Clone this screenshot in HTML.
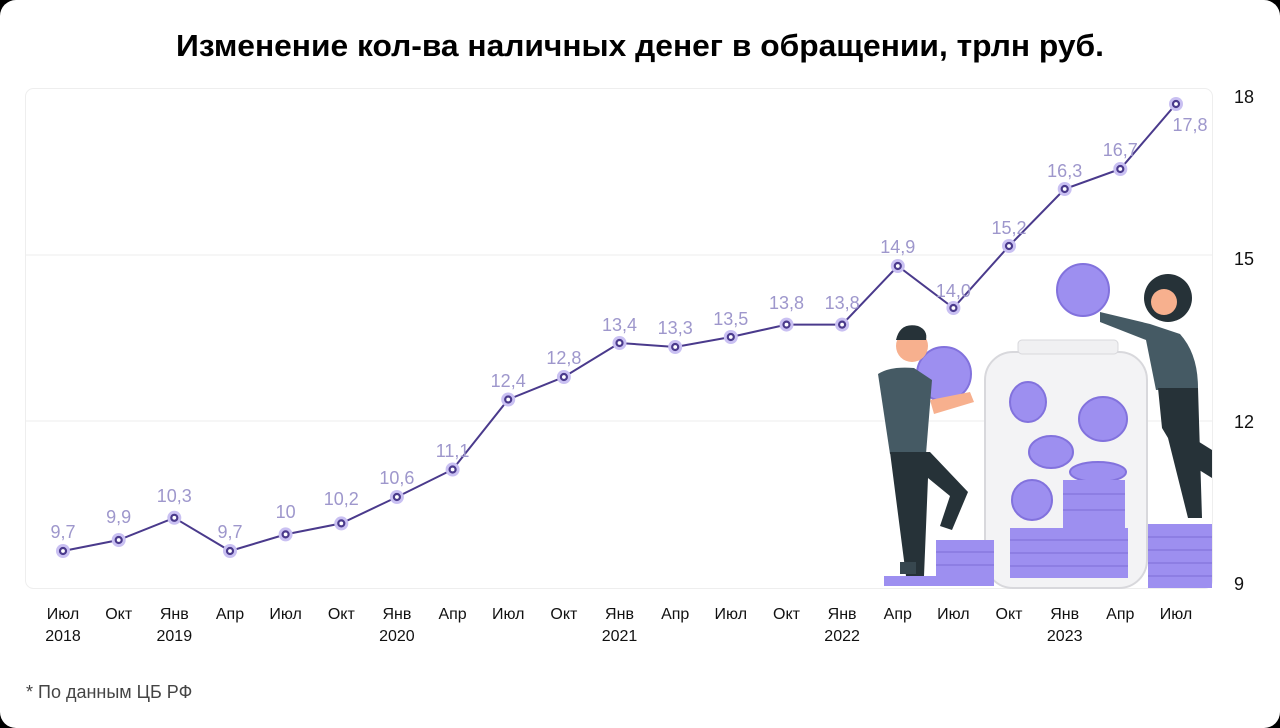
<!DOCTYPE html>
<html><head><meta charset="utf-8"><style>
html,body{margin:0;padding:0;background:#000;}
svg{display:block}
text{font-family:"Liberation Sans",sans-serif}
</style></head><body>
<svg width="1280" height="728" viewBox="0 0 1280 728" xmlns="http://www.w3.org/2000/svg">
<rect x="0" y="0" width="1280" height="728" rx="16" fill="#fff"/>
<text x="640" y="56" text-anchor="middle" font-size="31" font-weight="bold" fill="#000" textLength="928" lengthAdjust="spacingAndGlyphs">Изменение кол-ва наличных денег в обращении, трлн руб.</text>
<rect x="25.5" y="88.5" width="1187" height="500" rx="8" fill="#fff" stroke="#eeeeee"/>
<line x1="26" y1="255" x2="1212" y2="255" stroke="#eeeeee"/>
<line x1="26" y1="421" x2="1212" y2="421" stroke="#eeeeee"/>
<g font-size="18" fill="#111" text-anchor="start">
<text x="1234" y="103">18</text><text x="1234" y="265">15</text><text x="1234" y="428">12</text><text x="1234" y="590">9</text>
</g>
<g>
<rect x="985" y="352" width="162" height="236" rx="28" fill="#f3f3f5" stroke="#d8d8dc" stroke-width="2"/>
<rect x="1018" y="340" width="100" height="14" rx="4" fill="#f0f0f2" stroke="#d8d8dc"/>
<g fill="#9d8ff0" stroke="#8272dd" stroke-width="2">
<ellipse cx="1028" cy="402" rx="18" ry="20"/><ellipse cx="1103" cy="419" rx="24" ry="22"/>
<ellipse cx="1051" cy="452" rx="22" ry="16"/><ellipse cx="1032" cy="500" rx="20" ry="20"/>
<ellipse cx="1098" cy="472" rx="28" ry="10"/>
<ellipse cx="1083" cy="290" rx="26" ry="26"/><ellipse cx="944" cy="374" rx="27" ry="27"/>
</g>
<g fill="#9d8ff0">
<rect x="1063" y="480" width="62" height="48"/>
<rect x="1010" y="528" width="118" height="50"/>
<rect x="1148" y="524" width="64" height="64"/>
<rect x="936" y="540" width="58" height="38"/>
<rect x="884" y="576" width="110" height="10"/>
</g>
<g stroke="#7d6ed6" stroke-width="1">
<line x1="1010" y1="540" x2="1128" y2="540"/><line x1="1010" y1="553" x2="1128" y2="553"/><line x1="1010" y1="566" x2="1128" y2="566"/>
<line x1="1063" y1="494" x2="1125" y2="494"/><line x1="1063" y1="510" x2="1125" y2="510"/>
<line x1="1148" y1="537" x2="1212" y2="537"/><line x1="1148" y1="550" x2="1212" y2="550"/><line x1="1148" y1="563" x2="1212" y2="563"/><line x1="1148" y1="576" x2="1212" y2="576"/>
<line x1="936" y1="552" x2="994" y2="552"/><line x1="936" y1="565" x2="994" y2="565"/>
</g>
<circle cx="912" cy="346" r="16" fill="#f7b08e"/>
<path d="M896 340 q4 -18 22 -14 q10 4 8 14 z" fill="#263238"/>
<path d="M878 374 q12 -8 36 -6 l18 12 l-6 74 l-36 0 z" fill="#455a64"/>
<path d="M890 452 l40 0 l38 40 l-16 38 l-12 -4 l10 -30 l-22 -18 l-4 98 l-18 0 z" fill="#263238"/>
<rect x="900" y="562" width="16" height="12" fill="#37474f"/>
<path d="M930 400 l40 -8 l4 10 l-40 12 z" fill="#f7b08e"/>
<circle cx="1168" cy="298" r="24" fill="#263238"/>
<circle cx="1164" cy="302" r="13" fill="#f7b08e"/>
<path d="M1100 312 l50 12 l30 10 q18 20 18 54 l-42 2 l-10 -50 l-46 -18 z" fill="#455a64"/>
<path d="M1158 388 l40 0 l4 130 l-14 0 l-20 -80 l-6 -10 z" fill="#263238"/>
<path d="M1196 440 l16 10 l0 28 l-16 -10 z" fill="#263238"/>
</g>
<polyline fill="none" stroke="#4a3a8c" stroke-width="2" points="63,551 118.7,540 174.3,517.8 230,551 285.6,534.4 341.3,523.4 396.9,497 452.6,469.5 508.2,399.5 563.9,377 619.5,343 675.2,347 730.8,337 786.5,324.6 842.1,324.6 897.8,266 953.4,308 1009,246 1064.7,189 1120.3,169 1176,104"/>
<g>
<circle cx="63" cy="551" r="7" fill="#c9c0f2"/><circle cx="118.7" cy="540" r="7" fill="#c9c0f2"/><circle cx="174.3" cy="517.8" r="7" fill="#c9c0f2"/><circle cx="230" cy="551" r="7" fill="#c9c0f2"/><circle cx="285.6" cy="534.4" r="7" fill="#c9c0f2"/><circle cx="341.3" cy="523.4" r="7" fill="#c9c0f2"/><circle cx="396.9" cy="497" r="7" fill="#c9c0f2"/><circle cx="452.6" cy="469.5" r="7" fill="#c9c0f2"/><circle cx="508.2" cy="399.5" r="7" fill="#c9c0f2"/><circle cx="563.9" cy="377" r="7" fill="#c9c0f2"/><circle cx="619.5" cy="343" r="7" fill="#c9c0f2"/><circle cx="675.2" cy="347" r="7" fill="#c9c0f2"/><circle cx="730.8" cy="337" r="7" fill="#c9c0f2"/><circle cx="786.5" cy="324.6" r="7" fill="#c9c0f2"/><circle cx="842.1" cy="324.6" r="7" fill="#c9c0f2"/><circle cx="897.8" cy="266" r="7" fill="#c9c0f2"/><circle cx="953.4" cy="308" r="7" fill="#c9c0f2"/><circle cx="1009" cy="246" r="7" fill="#c9c0f2"/><circle cx="1064.7" cy="189" r="7" fill="#c9c0f2"/><circle cx="1120.3" cy="169" r="7" fill="#c9c0f2"/><circle cx="1176" cy="104" r="7" fill="#c9c0f2"/>
</g>
<g fill="#fff" stroke="#4a3a8c" stroke-width="2.2">
<circle cx="63" cy="551" r="3"/><circle cx="118.7" cy="540" r="3"/><circle cx="174.3" cy="517.8" r="3"/><circle cx="230" cy="551" r="3"/><circle cx="285.6" cy="534.4" r="3"/><circle cx="341.3" cy="523.4" r="3"/><circle cx="396.9" cy="497" r="3"/><circle cx="452.6" cy="469.5" r="3"/><circle cx="508.2" cy="399.5" r="3"/><circle cx="563.9" cy="377" r="3"/><circle cx="619.5" cy="343" r="3"/><circle cx="675.2" cy="347" r="3"/><circle cx="730.8" cy="337" r="3"/><circle cx="786.5" cy="324.6" r="3"/><circle cx="842.1" cy="324.6" r="3"/><circle cx="897.8" cy="266" r="3"/><circle cx="953.4" cy="308" r="3"/><circle cx="1009" cy="246" r="3"/><circle cx="1064.7" cy="189" r="3"/><circle cx="1120.3" cy="169" r="3"/><circle cx="1176" cy="104" r="3"/>
</g>
<g font-size="18" fill="#9e97cc" text-anchor="middle">
<text x="63" y="538">9,7</text><text x="118.7" y="523">9,9</text><text x="174.3" y="502">10,3</text><text x="230" y="538">9,7</text><text x="285.6" y="518">10</text><text x="341.3" y="505">10,2</text><text x="396.9" y="484">10,6</text><text x="452.6" y="457">11,1</text><text x="508.2" y="387">12,4</text><text x="563.9" y="364">12,8</text><text x="619.5" y="331">13,4</text><text x="675.2" y="334">13,3</text><text x="730.8" y="325">13,5</text><text x="786.5" y="309">13,8</text><text x="842.1" y="309">13,8</text><text x="897.8" y="253">14,9</text><text x="953.4" y="297">14,0</text><text x="1009" y="234">15,2</text><text x="1064.7" y="177">16,3</text><text x="1120.3" y="156">16,7</text><text x="1190" y="131">17,8</text>
</g>
<g font-size="16" fill="#111" text-anchor="middle">
<text x="63" y="619">Июл</text><text x="118.7" y="619">Окт</text><text x="174.3" y="619">Янв</text><text x="230" y="619">Апр</text><text x="285.6" y="619">Июл</text><text x="341.3" y="619">Окт</text><text x="396.9" y="619">Янв</text><text x="452.6" y="619">Апр</text><text x="508.2" y="619">Июл</text><text x="563.9" y="619">Окт</text><text x="619.5" y="619">Янв</text><text x="675.2" y="619">Апр</text><text x="730.8" y="619">Июл</text><text x="786.5" y="619">Окт</text><text x="842.1" y="619">Янв</text><text x="897.8" y="619">Апр</text><text x="953.4" y="619">Июл</text><text x="1009" y="619">Окт</text><text x="1064.7" y="619">Янв</text><text x="1120.3" y="619">Апр</text><text x="1176" y="619">Июл</text>
<text x="63" y="641">2018</text><text x="174.3" y="641">2019</text><text x="396.9" y="641">2020</text><text x="619.5" y="641">2021</text><text x="842.1" y="641">2022</text><text x="1064.7" y="641">2023</text>
</g>
<text x="26" y="698" font-size="18" fill="#444">* По данным ЦБ РФ</text>
</svg>
</body></html>
